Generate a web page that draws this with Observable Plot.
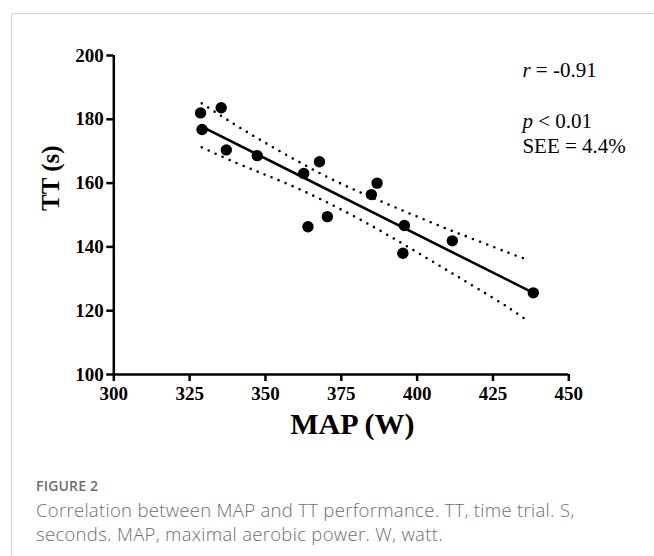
<!DOCTYPE html>
<html>
<head>
<meta charset="utf-8">
<script src="https://cdn.jsdelivr.net/npm/d3@7"></script>
<script src="https://cdn.jsdelivr.net/npm/@observablehq/plot@0.6"></script>
<style>
  html, body { margin: 0; padding: 0; background: #fff; width: 654px; height: 556px; overflow: hidden; }
  #card { position: absolute; left: 11px; top: 13px; width: 700px; height: 600px;
          border-left: 1.5px solid #d4d4d4; border-top: 1.5px solid #d4d4d4; }
  #chart { position: absolute; left: 0; top: 0; }
  #caption { position: absolute; left: 36px; top: 476px; width: 560px; font-family: "Open Sans", sans-serif; color: #6e6e6e; }
  #caption .fig { font-size: 14px; font-weight: 600; letter-spacing: 0.2px; line-height: 20px; }
  #caption .txt { font-size: 18.5px; line-height: 24px; font-weight: 300; margin-top: 2px; letter-spacing: 0.3px; }
</style>
</head>
<body>
<div id="card"></div>
<div id="chart"></div>
<div id="caption">
  <div class="fig">FIGURE 2</div>
  <div class="txt">Correlation between MAP and TT performance. TT, time trial. S, seconds. MAP, maximal aerobic power. W, watt.</div>
</div>
<script>
// Data
const mapW = [328.6, 335.4, 329.1, 337.1, 347.3, 367.8, 362.6, 386.8, 384.9, 370.4, 364.0, 395.8, 395.3, 411.6, 438.3];
const ttS  = [182.0, 183.6, 176.8, 170.4, 168.6, 166.7, 163.0, 160.0, 156.4, 149.5, 146.3, 146.7, 138.0, 141.9, 125.6];

// Regression line end points
const fitX = [329.0, 438.3];
const fitY = [177.7, 125.6];

// 95% confidence band (dotted curves)
const bandX     = [329, 340, 350, 360, 370, 380, 390, 400, 410, 420, 430, 437];
const bandUpper = [185.0, 178.3, 172.6, 167.2, 162.1, 157.6, 153.5, 149.5, 145.6, 141.9, 138.2, 135.8];
const bandLower = [171.2, 166.5, 162.6, 158.6, 154.1, 149.2, 143.9, 138.3, 132.6, 126.9, 121.0, 116.4];

const xTicks = [300, 325, 350, 375, 400, 425, 450];
const yTicks = [100, 120, 140, 160, 180, 200];

const annotations = ["r = -0.91", "p < 0.01", "SEE = 4.4%"];
const annotationY = [193.3, 177.4, 169.5];
const annotationX = 434.7;

const points = mapW.map((w, i) => ({w, t: ttS[i]}));
const fit = fitX.map((x, i) => ({x, y: fitY[i]}));
const upper = bandX.map((x, i) => ({x, y: bandUpper[i]}));
const lower = bandX.map((x, i) => ({x, y: bandLower[i]}));
const annos = annotations.map((s, i) => ({s, x: annotationX, y: annotationY[i]}));

const serif = "'Liberation Serif', 'Times New Roman', serif";

const plot = Plot.plot({
  width: 654,
  height: 462,
  marginLeft: 113.3,
  marginRight: 85.7,
  marginTop: 55,
  marginBottom: 88,
  style: {background: "transparent", fontFamily: serif, color: "#000"},
  x: {domain: [300, 450], ticks: xTicks},
  y: {domain: [100, 200], ticks: yTicks},
  marks: [
    Plot.axisX({ticks: xTicks, tickSize: 7, tickPadding: 5, fontSize: 19, fontWeight: "bold", strokeWidth: 2.5, label: null, fontFamily: serif}),
    Plot.axisY({ticks: yTicks, tickSize: 7, tickPadding: 3, fontSize: 19, fontWeight: "bold", strokeWidth: 2.5, label: null, fontFamily: serif}),
    Plot.ruleY([100], {stroke: "#000", strokeWidth: 2.5}),
    Plot.ruleX([300], {stroke: "#000", strokeWidth: 2.5}),
    Plot.line(upper, {x: "x", y: "y", stroke: "#000", strokeWidth: 2.6, strokeDasharray: "0,7.6", strokeLinecap: "round", curve: "natural"}),
    Plot.line(lower, {x: "x", y: "y", stroke: "#000", strokeWidth: 2.6, strokeDasharray: "0,7.6", strokeLinecap: "round", curve: "natural"}),
    Plot.line(fit, {x: "x", y: "y", stroke: "#000", strokeWidth: 2.6}),
    Plot.dot(points, {x: "w", y: "t", r: 5.7, fill: "#000", stroke: "none"}),
    Plot.text(["TT (s)"], {frameAnchor: "left", dx: -63, dy: -4, rotate: -90, fontSize: 25, fontWeight: "bold", fontFamily: serif, fill: "#000"}),
    Plot.text(["MAP (W)"], {frameAnchor: "bottom", dx: 11, dy: 59, fontSize: 30, fontWeight: "bold", fontFamily: serif, fill: "#000"}),
    Plot.text(annos, {x: "x", y: "y", text: "s", textAnchor: "start", lineAnchor: "bottom", fontSize: 21, fontFamily: serif, fill: "#000", className: "anno"})
  ]
});

d3.select(plot).selectAll(".anno text").each(function() {
  const t = this.textContent;
  const m = t.match(/^([rp])( .*)$/);
  if (m) {
    const el = d3.select(this);
    el.text(null);
    el.append("tspan").attr("font-style", "italic").text(m[1]);
    el.append("tspan").text(m[2]);
  }
});

document.getElementById("chart").appendChild(plot);
</script>
</body>
</html>
